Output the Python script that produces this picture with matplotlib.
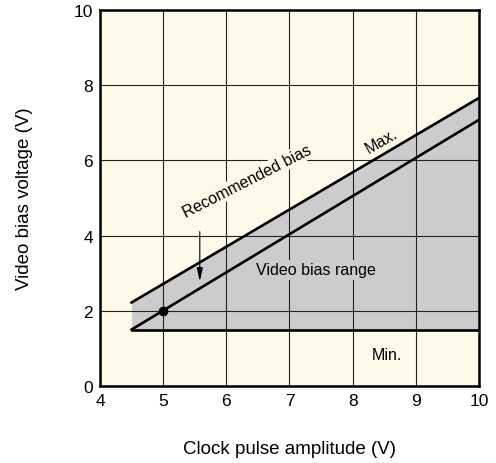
import numpy as np
import matplotlib.pyplot as plt

plt.rcParams['font.family'] = ['Liberation Sans', 'DejaVu Sans']

# Data
x_range = [4.5, 10.0]
max_bias = [2.22, 7.66]
rec_bias = [1.5, 7.08]
min_bias = [1.5, 1.5]
rec_point = (5.0, 2.0)
x_ticks = [4, 5, 6, 7, 8, 9, 10]
y_ticks = [0, 2, 4, 6, 8, 10]

BG = "#fefae9"
SHADE = "#cccccc"


def main():
    fig = plt.figure(figsize=(4.96, 4.64), dpi=100)
    ax = fig.add_axes([0.2016, 0.166, 0.7641, 0.8103])
    ax.set_facecolor(BG)

    # shaded video bias range
    ax.fill_between(x_range, min_bias, max_bias, color=SHADE, lw=0, zorder=1)

    ax.set_xlim(4, 10)
    ax.set_ylim(0, 10)
    ax.set_xticks(x_ticks)
    ax.set_yticks(y_ticks)
    ax.grid(True, color="#222222", lw=0.8, zorder=2)
    ax.set_axisbelow(False)
    ax.tick_params(length=0, labelsize=12.5, pad=5)
    for s in ax.spines.values():
        s.set_linewidth(1.8)
        s.set_zorder(5)

    ax.plot(x_range, max_bias, color="black", lw=1.9, zorder=4)
    ax.plot(x_range, rec_bias, color="black", lw=1.9, zorder=4)
    ax.plot(x_range, min_bias, color="black", lw=1.9, zorder=4)
    ax.plot(*rec_point, "o", color="black", ms=6, zorder=6)

    # labels
    ax.text(6.33, 5.45, "Recommended bias", rotation=27, ha="center", va="center",
            fontsize=11.5, zorder=3,
            bbox=dict(facecolor=BG, edgecolor="none", pad=1))
    ax.text(8.46, 6.54, "Max.", rotation=30, ha="center", va="center",
            fontsize=11.5, zorder=3,
            bbox=dict(facecolor=BG, edgecolor="none", pad=1))
    ax.text(7.42, 3.09, "Video bias range", ha="center", va="center",
            fontsize=11.5, zorder=3,
            bbox=dict(facecolor=SHADE, edgecolor="none", pad=2))
    ax.text(8.54, 0.85, "Min.", ha="center", va="center",
            fontsize=11.5, zorder=3,
            bbox=dict(facecolor=BG, edgecolor="none", pad=2))

    ax.annotate("", xy=(5.58, 2.71), xytext=(5.58, 4.18),
                arrowprops=dict(arrowstyle="-|>,head_length=0.8,head_width=0.18",
                                color="black", lw=0.8),
                zorder=4)

    ax.set_xlabel("Clock pulse amplitude (V)", fontsize=13.5, va="center")
    ax.xaxis.set_label_coords(0.5, -0.165)
    ax.set_ylabel("Video bias voltage (V)", fontsize=13.5, va="center")
    ax.yaxis.set_label_coords(-0.198, 0.5)

    fig.savefig("out.png", dpi=100)
    plt.close(fig)


if __name__ == "__main__":
    main()
